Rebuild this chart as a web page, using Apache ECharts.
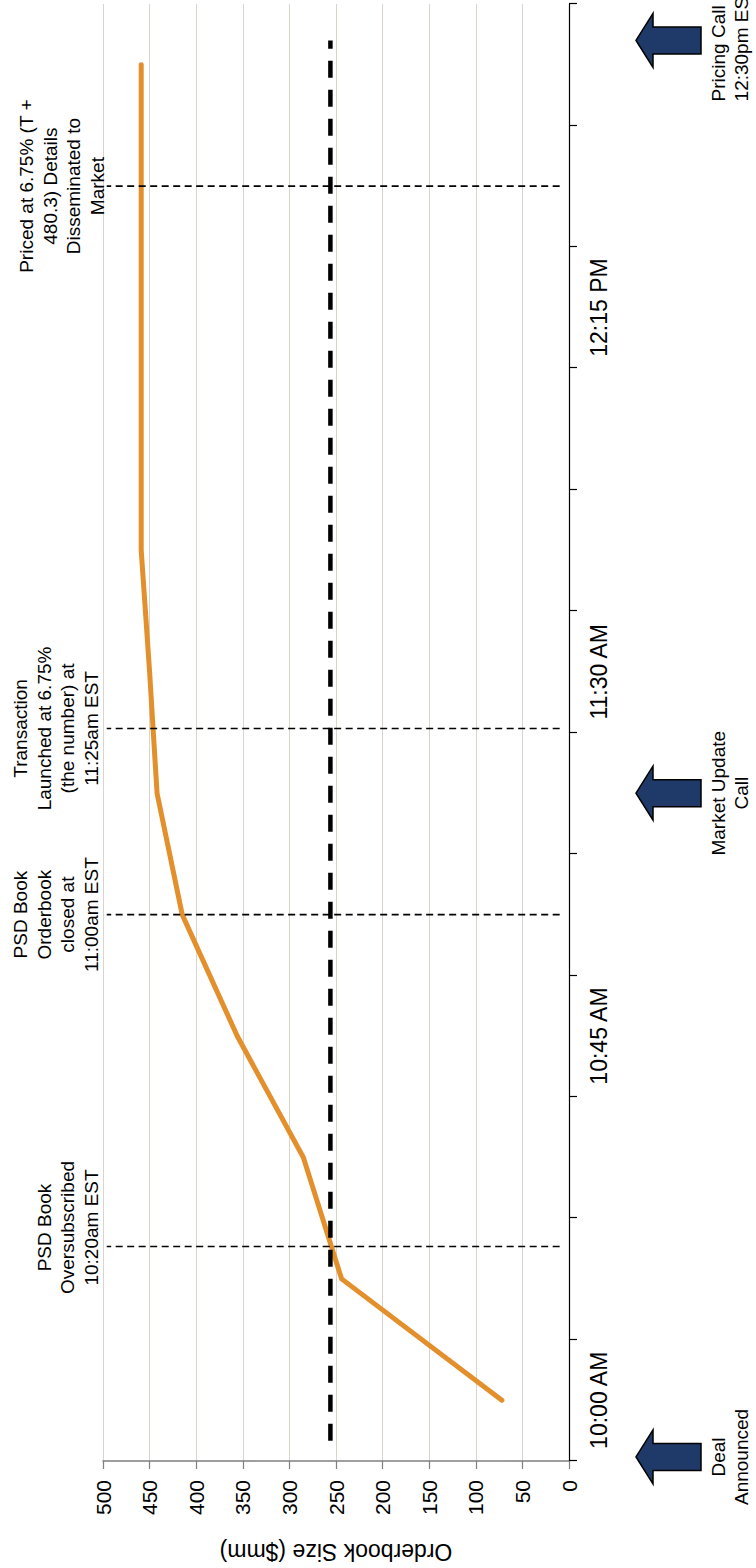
<!DOCTYPE html>
<html>
<head>
<meta charset="utf-8">
<title>Orderbook Build</title>
<script src="https://cdn.jsdelivr.net/npm/echarts@6/dist/echarts.min.js"></script>
<style>
  html, body { margin: 0; padding: 0; width: 756px; height: 1568px; overflow: hidden; background: #fff; }
  /* the chart is laid out landscape and turned a quarter-turn to stand upright on the page */
  #chart {
    position: absolute; left: 0; top: 0;
    width: 1568px; height: 756px;
    transform-origin: 0 0;
    transform: translate(0, 1568px) rotate(-90deg);
  }
</style>
</head>
<body>
<div id="chart"></div>
<script>
// 15-minute time buckets of the bookbuild
const timeLabels = ['10:00 AM', '10:15 AM', '10:30 AM', '10:45 AM', '11:00 AM', '11:15 AM',
                    '11:30 AM', '11:45 AM', '12:00 PM', '12:15 PM', '12:30 PM', '12:45 PM'];
// orderbook size ($mm) at each bucket
const orderbook = [72, 244, 285, 356, 415, 442, 450, 459, 459, 459, 459, 459];

// deal size reference line ($mm) and its extent in minutes after 10:00
const targetSize = 256;
const targetSpan = [-5, 168];

// milestones, in minutes after 10:00
const eventMinutes = [19, 60, 83, 150];
const eventTexts = [
  'PSD Book\nOversubscribed\n10:20am EST',
  'PSD Book\nOrderbook\nclosed at\n11:00am EST',
  'Transaction\nLaunched at 6.75%\n(the number) at\n11:25am EST',
  'Priced at 6.75% (T +\n480.3) Details\nDisseminated to\nMarket'
];
const eventLineRange = [10, 496];   // $mm extent of the milestone markers

// calls with investors, in minutes after 10:00
const callMinutes = [-7, 75, 168];
const callTexts = ['Deal\nAnnounced', 'Market Update\nCall', 'Pricing Call\n12:30pm EST'];

// layout / styling
const FONT = '"Liberation Sans", Arial, sans-serif';
const ORANGE = '#E38F2C';
const NAVY = '#1F3A68';
const eventTextShift = [[19, 0], [0, 0], [0, 0], [0, 6]];
const callTextPlacement = [
  { align: 'center', dx: 0 },
  { align: 'center', dx: 0 },
  { align: 'left', dx: -61 }
];

const chart = echarts.init(document.getElementById('chart'), null, { renderer: 'svg' });

const option = {
  animation: false,
  backgroundColor: '#ffffff',
  grid: { left: 107, right: 4, top: 103, bottom: 187, containLabel: false, outerBoundsMode: 'none' },
  xAxis: [
    {
      type: 'category',
      data: timeLabels,
      boundaryGap: true,
      axisLine: { show: true, onZero: true, lineStyle: { color: '#000', width: 1.2 } },
      axisTick: { show: true, interval: 0, length: 8, lineStyle: { color: '#000', width: 1.2 } },
      axisLabel: { interval: 2, fontSize: 23, color: '#000', margin: 18, fontFamily: FONT },
      splitLine: { show: false }
    },
    {
      // minute scale sharing the same band as the time buckets
      type: 'value',
      min: -7.5,
      max: 172.5,
      show: false
    }
  ],
  yAxis: {
    type: 'value',
    min: 0,
    max: 500,
    interval: 50,
    name: 'Orderbook Size ($mm)',
    nameLocation: 'middle',
    nameGap: 79,
    nameMoveOverlap: false,
    nameTextStyle: { fontSize: 23, color: '#000', fontFamily: FONT },
    axisLine: { show: true, onZero: false, lineStyle: { color: '#7f7f7f', width: 1.5 } },
    axisTick: { show: true, length: 8, lineStyle: { color: '#7f7f7f', width: 1.2 } },
    axisLabel: { fontSize: 21, color: '#000', margin: 19, fontFamily: FONT },
    splitLine: { show: true, lineStyle: { color: '#D9D5CD', width: 1 } }
  },
  series: [
    {
      name: 'Orderbook',
      type: 'line',
      xAxisIndex: 0,
      data: orderbook,
      symbol: 'none',
      lineStyle: { color: ORANGE, width: 5, cap: 'round', join: 'round' },
      z: 3,
      silent: true
    },
    {
      // deal size reference
      type: 'custom',
      xAxisIndex: 1,
      clip: false,
      silent: true,
      z: 4,
      encode: { x: [0, 1], y: 2 },
      data: [[targetSpan[0], targetSpan[1], targetSize]],
      renderItem: function (params, api) {
        const a = api.coord([api.value(0), api.value(2)]);
        const b = api.coord([api.value(1), api.value(2)]);
        return {
          type: 'line',
          shape: { x1: a[0], y1: a[1], x2: b[0], y2: b[1] },
          style: { stroke: '#000', lineWidth: 4.5, lineDash: [17, 12], fill: null }
        };
      }
    },
    {
      // milestone markers with their notes
      type: 'custom',
      xAxisIndex: 1,
      clip: false,
      silent: true,
      z: 5,
      encode: { x: 0, y: [1, 2] },
      data: eventMinutes.map(function (m) { return [m, eventLineRange[0], eventLineRange[1]]; }),
      renderItem: function (params, api) {
        const i = params.dataIndex;
        const m = api.value(0);
        const lo = api.coord([m, api.value(1)]);
        const hi = api.coord([m, api.value(2)]);
        const top = api.coord([m, 500]);
        const sh = eventTextShift[i];
        return {
          type: 'group',
          children: [
            {
              type: 'line',
              shape: { x1: lo[0], y1: lo[1], x2: hi[0], y2: hi[1] },
              style: { stroke: '#000', lineWidth: 1.6, lineDash: [7, 4.5], fill: null }
            },
            {
              type: 'text',
              x: top[0] + sh[0],
              y: top[1] + sh[1],
              style: {
                text: eventTexts[i],
                fill: '#000',
                fontSize: 19,
                fontFamily: FONT,
                lineHeight: 23.5,
                align: 'center',
                verticalAlign: 'bottom'
              }
            }
          ]
        };
      }
    },
    {
      // call arrows under the time axis
      type: 'custom',
      xAxisIndex: 1,
      clip: false,
      silent: true,
      z: 5,
      encode: { x: 0, y: 1 },
      data: callMinutes.map(function (m) { return [m, 0]; }),
      renderItem: function (params, api) {
        const i = params.dataIndex;
        const p = api.coord([api.value(0), api.value(1)]);
        const cx = p[0];
        const t = p[1] + 67;
        const pts = [
          [cx, t], [cx + 27, t + 17], [cx + 13.5, t + 17], [cx + 13.5, t + 65],
          [cx - 13.5, t + 65], [cx - 13.5, t + 17], [cx - 27, t + 17]
        ];
        const place = callTextPlacement[i];
        return {
          type: 'group',
          children: [
            {
              type: 'polygon',
              shape: { points: pts },
              style: { fill: NAVY, stroke: '#000', lineWidth: 1.5 }
            },
            {
              type: 'text',
              x: cx + place.dx,
              y: p[1] + 138,
              style: {
                text: callTexts[i],
                fill: '#000',
                fontSize: 19,
                fontFamily: FONT,
                lineHeight: 23,
                align: place.align,
                verticalAlign: 'top'
              }
            }
          ]
        };
      }
    }
  ]
};

chart.setOption(option);
</script>
</body>
</html>
